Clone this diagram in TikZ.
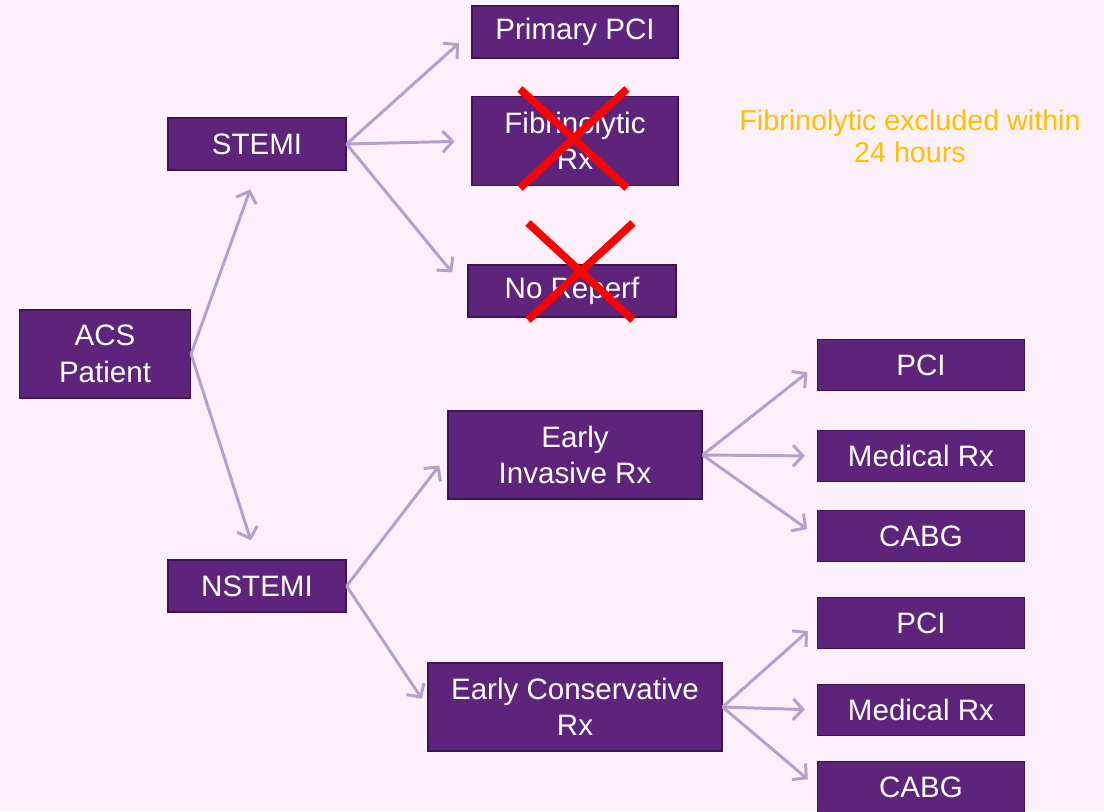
\documentclass[tikz,border=0pt]{standalone}
\usepackage{fontspec}
\setmainfont{Liberation Sans}
\usetikzlibrary{arrows.meta,shadows}
\definecolor{bgpink}{RGB}{252,240,250}
\definecolor{boxpurple}{RGB}{94,36,124}
\definecolor{boxedge}{RGB}{62,20,84}
\definecolor{arrowlilac}{RGB}{180,160,202}
\definecolor{notegold}{RGB}{255,192,0}
\tikzset{
    box/.style={draw=boxedge, line width=0.8pt, fill=boxpurple, text=white,
        align=center, inner sep=0pt,
        font=\fontsize{21}{26}\selectfont,
        drop shadow={shadow xshift=0.6pt, shadow yshift=-0.6pt, fill=black, opacity=0.35}},
    arr/.style={draw=arrowlilac, line width=2.1pt,
        -{Straight Barb[length=7pt,width=15pt]}},
    cross/.style={draw=red, line width=5.5pt}
}
\begin{document}
\begin{tikzpicture}[x=0.025cm, y=-0.025cm]
            \fill[bgpink] (0,0) rectangle (1104,811);
            \useasboundingbox (0,0) rectangle (1104,811);
            \begin{scope}
                \node[box, minimum width=4.275cm, minimum height=2.2cm] at (105,354) (acs) {ACS\\Patient};
                \node[box, minimum width=4.45cm, minimum height=1.3cm] at (257,144) (stemi) {STEMI};
                \node[box, minimum width=4.45cm, minimum height=1.3cm] at (257,586) (nstemi) {NSTEMI};
                \node[box, minimum width=5.15cm, minimum height=1.3cm] at (575,32) (ppci) {Primary PCI};
                \node[box, minimum width=5.15cm, minimum height=2.225cm] at (575,141) (fib) {Fibrinolytic\\Rx};
                \node[box, minimum width=5.2cm, minimum height=1.3cm] at (572,291) (noreperf) {No Reperf};
                \node[box, minimum width=6.35cm, minimum height=2.2cm] at (575,455) (einv) {Early\\Invasive Rx};
                \node[box, minimum width=7.35cm, minimum height=2.2cm] at (575,707) (econs) {Early Conservative\\Rx};
                \node[box, minimum width=5.175cm, minimum height=1.27cm] at (921,365) (pcia) {PCI};
                \node[box, minimum width=5.175cm, minimum height=1.27cm] at (921,456) (meda) {Medical Rx};
                \node[box, minimum width=5.175cm, minimum height=1.27cm] at (921,536) (cabga) {CABG};
                \node[box, minimum width=5.175cm, minimum height=1.27cm] at (921,623) (pcib) {PCI};
                \node[box, minimum width=5.175cm, minimum height=1.27cm] at (921,710) (medb) {Medical Rx};
                \node[box, minimum width=5.175cm, minimum height=1.27cm] at (921,787) (cabgb) {CABG};
                \node[text=notegold, align=center, font=\fontsize{20.4}{23}\selectfont] at (910,136) (note) {Fibrinolytic excluded within\\24 hours};

                \draw[arr, shorten >=0.5cm] (acs.east) -- (stemi.south);
                \draw[arr, shorten >=0.5cm] (acs.east) -- (nstemi.north);
                \draw[arr, shorten >=0.42cm] (stemi.east) -- (ppci.west);
                \draw[arr, shorten >=0.42cm] (stemi.east) -- (fib.west);
                \draw[arr, shorten >=0.6cm] (stemi.east) -- (noreperf.west);
                \draw[arr, shorten >=0.33cm] (nstemi.east) -- (einv.west);
                \draw[arr, shorten >=0.25cm] (nstemi.east) -- (econs.west);
                \draw[arr, shorten >=0.3cm] (einv.east) -- (pcia.west);
                \draw[arr, shorten >=0.3cm] (einv.east) -- (meda.west);
                \draw[arr, shorten >=0.3cm] (einv.east) -- (cabga.west);
                \draw[arr, shorten >=0.3cm] (econs.east) -- (pcib.west);
                \draw[arr, shorten >=0.3cm] (econs.east) -- (medb.west);
                \draw[arr, shorten >=0.3cm] (econs.east) -- (cabgb.west);

                % crosses over the excluded options
                \draw[cross] (520,89) -- (627,188);
                \draw[cross] (627,89) -- (520,188);
                \draw[cross] (528,223) -- (633,320);
                \draw[cross] (633,223) -- (528,320);
            \end{scope}
        \end{tikzpicture}
\end{document}
